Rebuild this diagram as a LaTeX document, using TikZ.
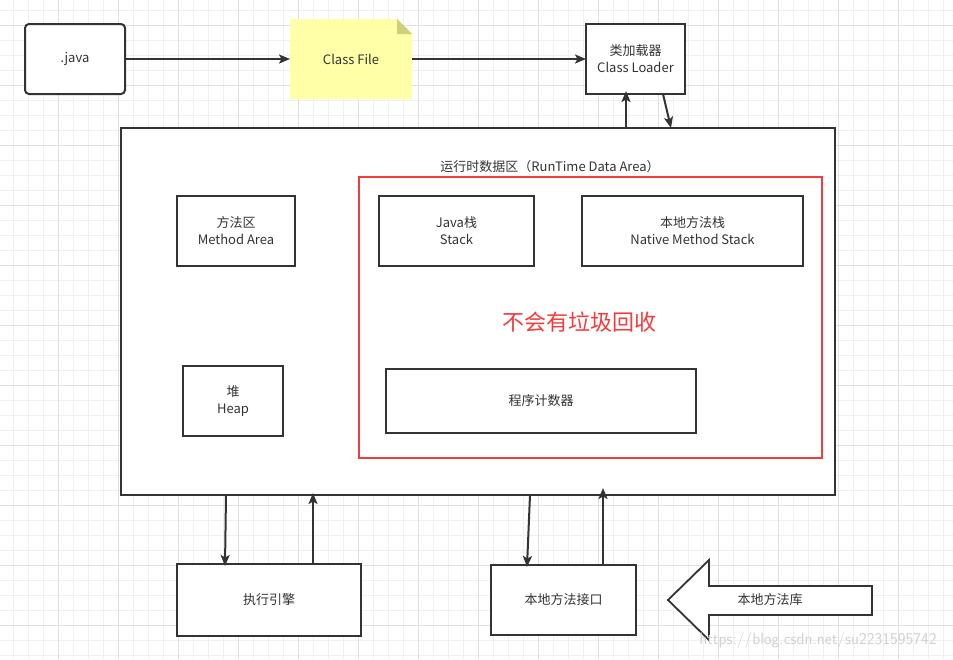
\documentclass[tikz,border=0pt]{standalone}
\usepackage{fontspec}
\setmainfont{Noto Sans CJK SC}
\usetikzlibrary{arrows.meta, backgrounds}
\definecolor{ink}{HTML}{333333}
\definecolor{gcred}{HTML}{F43B3B}
\definecolor{notefill}{HTML}{FFFFA8}
\definecolor{notefold}{HTML}{CFCF78}
\definecolor{minorgrid}{HTML}{F0F0F0}
\definecolor{majorgrid}{HTML}{E0E0E0}
\tikzset{
  box/.style={draw=ink, fill=white, text=ink, align=center, inner sep=0pt, outer sep=0pt,
    font=\fontsize{13}{17}\selectfont},
  notebox/.style={text=ink, inner sep=0pt, outer sep=0pt, font=\fontsize{13}{17}\selectfont},
  txt/.style={text=ink, inner sep=0pt, font=\fontsize{13}{17}\selectfont},
  link/.style={draw=ink, line width=2pt, ->},
}

\begin{document}
\begin{tikzpicture}[x=1pt, y=-1pt, line width=2pt,
  >={Stealth[length=11pt, width=9pt, inset=2.5pt]}]
  \useasboundingbox (0,0) rectangle (953,659);
  \begin{scope}[on background layer]
    \fill[white] (0,0) rectangle (953,659);
    \foreach \i in {0,...,63}
      \draw[minorgrid, line width=1pt] ({13.3+15*\i},0) -- ++(0,659);
    \foreach \j in {0,...,43}
      \draw[minorgrid, line width=1pt] (0,{10+15*\j}) -- ++(953,0);
    \foreach \i in {0,...,15}
      \draw[majorgrid, line width=1pt] ({58.3+60*\i},0) -- ++(0,659);
    \foreach \j in {0,...,10}
      \draw[majorgrid, line width=1pt] (0,{25+60*\j}) -- ++(953,0);
  \end{scope}

  \node[box, rounded corners=4pt, minimum width=100pt, minimum height=70pt] (java) at (75,59) {.java};
  \node[notebox, minimum width=122pt, minimum height=80pt] (cf) at (351,59) {Class File};
  \begin{scope}[on background layer]
    \fill[notefill] (cf.north west) -- ([xshift=-15pt]cf.north east) -- ([yshift=-15pt]cf.north east)
      -- (cf.south east) -- (cf.south west) -- cycle;
    \fill[notefold] ([xshift=-15pt]cf.north east) -- ([yshift=-15pt]cf.north east)
      -- ([xshift=-15pt,yshift=-15pt]cf.north east) -- cycle;
  \end{scope}
  \node[box, minimum width=99pt, minimum height=70pt] (loader) at (635.5,59) {类加载器\\Class Loader};

  \node[box, minimum width=714pt, minimum height=367pt] (rda) at (478,311.5) {};
  \node[txt] (rdatitle) at (550,167) {运行时数据区（RunTime Data Area）};
  \node[draw=gcred, line width=2.2pt, minimum width=463pt, minimum height=281pt] (nogc) at (590.5,317.5) {};

  \node[box, minimum width=118pt, minimum height=70pt] (ma) at (236,231) {方法区\\Method Area};
  \node[box, minimum width=155pt, minimum height=70pt] (js) at (456.5,231) {Java栈\\Stack};
  \node[box, minimum width=221pt, minimum height=70pt] (nms) at (692.5,231) {本地方法栈\\Native Method Stack};
  \node[text=gcred, font=\fontsize{22}{26}\selectfont] (gctext) at (579,322) {不会有垃圾回收};
  \node[box, minimum width=100pt, minimum height=70pt] (heap) at (233,401) {堆\\Heap};
  \node[box, minimum width=310pt, minimum height=64pt] (pc) at (541,401) {程序计数器};

  \node[box, minimum width=184pt, minimum height=72pt] (ee) at (269,600) {执行引擎};
  \node[box, minimum width=145pt, minimum height=70pt] (jni) at (563.5,600) {本地方法接口};

  \coordinate (libtip) at (668,600);
  \draw[ink, fill=white, line width=1.8pt] (libtip) -- ++(41,-40) -- ++(0,26) -- ++(163,0)
    -- ++(0,29) -- ++(-163,0) -- ++(0,25) -- cycle;
  \node[txt] (lib) at (770,600) {本地方法库};

  \draw[link] (java) -- (cf);
  \draw[link] (cf) -- (loader);
  \draw[link] (rda.north -| 626,0) -- ([yshift=3pt]loader.south -| 626,0);
  \draw[link] (loader.south -| 663,0) -- (rda.north -| 671,0);
  \draw[link] (rda.south -| 226,0) -- ([yshift=-2pt]ee.north -| 225,0);
  \draw[link] (ee.north -| 313,0) -- ([yshift=2pt]rda.south -| 313,0);
  \draw[link] (rda.south -| 530,0) -- ([yshift=-2pt]jni.north -| 527,0);
  \draw[link] (jni.north -| 603,0) -- ([yshift=7pt]rda.south -| 603,0);

  \node[text=black!18, font=\fontsize{16.5}{19}\selectfont\sffamily] (mark) at (818,640) {https://blog.csdn.net/su2231595742};
\end{tikzpicture}
\end{document}
